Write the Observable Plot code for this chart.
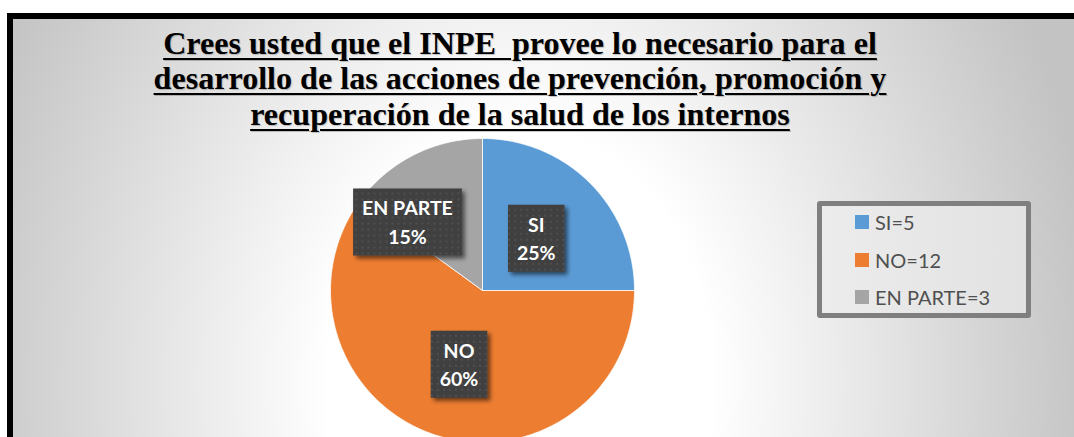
<!DOCTYPE html>
<html>
<head>
<meta charset="utf-8">
<script src="https://cdn.jsdelivr.net/npm/d3@7"></script>
<script src="https://cdn.jsdelivr.net/npm/@observablehq/plot@0.6"></script>
<style>
  html, body { margin:0; padding:0; width:1074px; height:437px; overflow:hidden; background:#fff; }
  #frame { position:absolute; left:13px; top:19px; width:1061px; height:418px;
    background: radial-gradient(ellipse 580px 760px at 507px 361px, #ffffff 0%, #ffffff 33%, #c3c3c3 100%); }
  #bl { position:absolute; left:7px; top:13px; width:6px; height:424px; background:#000; }
  #bt { position:absolute; left:7px; top:13px; width:1067px; height:6px; background:#000; }
  .tline { position:absolute; left:0; width:1040px; text-align:center; white-space:pre;
    font-family:"Liberation Serif","Times New Roman",serif; font-weight:bold; color:#000;
    text-decoration: underline; text-decoration-thickness:2px; text-underline-offset:4px;
    text-shadow: 1px 1px 1px rgba(0,0,0,0.22); line-height:1; }
  #plot { position:absolute; left:0; top:0; }
  #legend { position:absolute; left:817px; top:201px; width:204px; height:107px;
    border:5px solid #7f7f7f; border-radius:3px;
    background: linear-gradient(to right, #ececec, #e2e2e2); }
  .li { position:absolute; left:33px; font-family:Lato,"Open Sans",sans-serif; font-size:20px; color:#505050; line-height:1; white-space:pre; }
  .sw { position:absolute; left:33px; width:14px; height:14px; }
</style>
</head>
<body>
<div id="frame"></div>
<div id="bl"></div>
<div id="bt"></div>
<div id="title"></div>
<div id="plot"></div>
<div id="legend"></div>
<script>
// ---- data ----
const categories = ["SI", "NO", "EN PARTE"];
const counts = [5, 12, 3];
const percentLabels = ["25%", "60%", "15%"];
const legendLabels = ["SI=5", "NO=12", "EN PARTE=3"];
const colors = ["#5B9BD5", "#ED7D31", "#A5A5A5"];
const titleLines = [
  "Crees usted que el INPE  provee lo necesario para el",
  "desarrollo de las acciones de prevención, promoción y",
  "recuperación de la salud de los internos"
];

// ---- title ----
const titleDiv = document.getElementById("title");
const cnv = document.createElement("canvas").getContext("2d");
cnv.font = "bold 100px 'Liberation Serif'";
const w1 = cnv.measureText(titleLines[0]).width;
const fs = 100 * 714 / w1;
const baselines = [54, 89, 125];
titleLines.forEach((t, i) => {
  const d = document.createElement("div");
  d.className = "tline";
  d.textContent = t;
  d.style.fontSize = fs + "px";
  d.style.top = (baselines[i] - 0.891 * fs - (1 - 0.891 - 0.216) * fs / 2) + "px";
  titleDiv.appendChild(d);
});

// ---- pie ----
const W = 1074, H = 437, cx = 482, cy = 290, R = 152;
const arcs = d3.pie().sort(null)(counts);
const slicePts = arcs.map((a, i) => {
  const pts = [{x: 0, y: 0}];
  const n = Math.max(8, Math.ceil((a.endAngle - a.startAngle) / (Math.PI / 360)));
  for (let k = 0; k <= n; k++) {
    const t = a.startAngle + (a.endAngle - a.startAngle) * k / n;
    pts.push({x: Math.sin(t), y: Math.cos(t)});
  }
  pts.push({x: 0, y: 0});
  return pts;
});
// label placement tweaks (Excel best-fit moves small slice labels)
const labelTweak = {"EN PARTE": {r: 0.675, shift: -20 * Math.PI / 180}};
const labels = arcs.map((a, i) => {
  const tw = labelTweak[categories[i]] || {r: 0.5, shift: 0};
  const m = (a.startAngle + a.endAngle) / 2 + tw.shift;
  return {x: tw.r * Math.sin(m), y: tw.r * Math.cos(m), text: categories[i] + "\n" + percentLabels[i]};
});

const plot = Plot.plot({
  width: W, height: H,
  x: {domain: [-1, 1], range: [cx - R, cx + R], axis: null},
  y: {domain: [-1, 1], range: [cy + R, cy - R], axis: null},
  style: {background: "transparent", overflow: "visible"},
  marks: [
    ...slicePts.map((pts, i) => Plot.line(pts, {x: "x", y: "y", fill: colors[i], stroke: "#ffffff", strokeWidth: 1, strokeOpacity: 0.8})),
    Plot.text(labels, {x: "x", y: "y", text: "text", fill: "#ffffff", fontWeight: "bold", fontSize: 19.5, lineHeight: 1.44, fontFamily: "Lato, 'Open Sans', sans-serif"})
  ]
});
document.getElementById("plot").appendChild(plot);

// label boxes behind text
const ns = "http://www.w3.org/2000/svg";
const defs = document.createElementNS(ns, "defs");
defs.innerHTML = `
  <pattern id="dots" width="6" height="6" patternUnits="userSpaceOnUse">
    <rect width="6" height="6" fill="#3f3f3f"/>
    <circle cx="3" cy="3" r="0.9" fill="#585858"/>
  </pattern>
  <filter id="shd" x="-30%" y="-30%" width="160%" height="160%">
    <feDropShadow dx="3" dy="3" stdDeviation="2" flood-color="#000" flood-opacity="0.55"/>
  </filter>`;
plot.insertBefore(defs, plot.firstChild);
const textNodes = Array.from(plot.querySelectorAll('g[aria-label="text"] text'));
textNodes.forEach(t => {
  const b = t.getBBox();
  const r = document.createElementNS(ns, "rect");
  const pw = 9, ph = 8;
  r.setAttribute("x", b.x - pw);
  r.setAttribute("y", b.y - ph);
  r.setAttribute("width", b.width + 2 * pw);
  r.setAttribute("height", b.height + 2 * ph);
  r.setAttribute("fill", "url(#dots)");
  r.setAttribute("filter", "url(#shd)");
  if (t.getAttribute("transform")) r.setAttribute("transform", t.getAttribute("transform"));
  t.parentNode.insertBefore(r, t);
});
// make sure every box sits below every label
const tg = plot.querySelector('g[aria-label="text"]');
textNodes.forEach(t => tg.appendChild(t));

// ---- legend ----
const lg = document.getElementById("legend");
const rowY = [16, 54, 91];
categories.forEach((c, i) => {
  const s = document.createElement("div");
  s.className = "sw";
  s.style.background = colors[i];
  s.style.top = (rowY[i] - 7) + "px";
  lg.appendChild(s);
  const t = document.createElement("div");
  t.className = "li";
  t.textContent = legendLabels[i];
  t.style.left = "53px";
  t.style.top = (rowY[i] - 10.5) + "px";
  lg.appendChild(t);
});
</script>
</body>
</html>
